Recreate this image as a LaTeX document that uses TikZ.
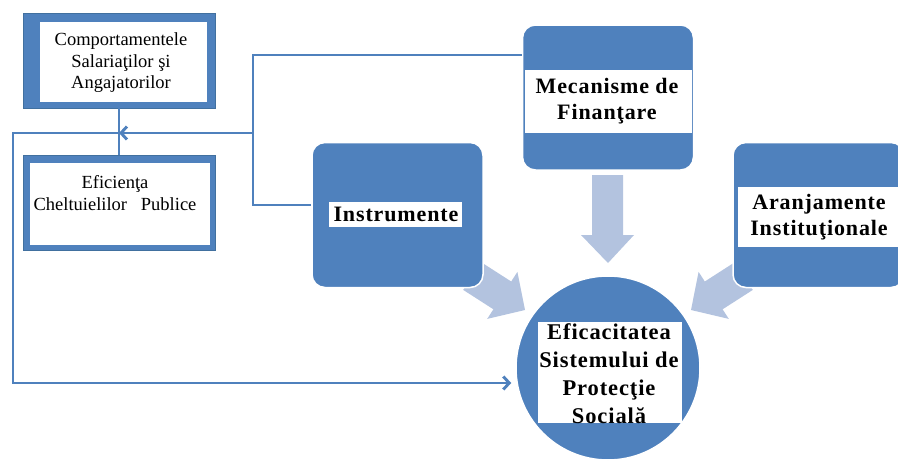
\documentclass[tikz,border=0pt]{standalone}
\usepackage{fontspec}
\setmainfont{Liberation Serif}
\newfontfamily\bwide[LetterSpace=4]{Liberation Serif}
\usetikzlibrary{arrows.meta}
\definecolor{blu}{HTML}{4F81BD}
\definecolor{lblu}{HTML}{B3C3DF}
\definecolor{dblu}{HTML}{41709F}
\begin{document}
\begin{tikzpicture}[x=1pt,y=-1pt,
  conn/.style={draw=blu,line width=2.9pt},
  thinconn/.style={draw=blu,line width=1.3pt},
  tipA/.style={-{Straight Barb[length=6pt,width=13pt]}},
  rbox/.style={rectangle,fill=blu,draw=white,line width=1.5pt,rounded corners=13pt,minimum width=171pt,minimum height=145pt},
  frame/.style={rectangle,fill=blu,draw=dblu,line width=0.8pt,minimum width=192pt,minimum height=95pt,inner sep=0pt},
  btxt/.style={font=\bwide\bfseries\fontsize{22}{26}\selectfont,align=center,inner sep=0pt},
  rtxt/.style={font=\fontsize{18.5}{21.5}\selectfont,align=center,inner sep=0pt},
  barrow/.style={fill=lblu}
]
\useasboundingbox (0,0) rectangle (898,463);

% light block arrows
\fill[barrow] (592,175) -- (623,175) -- (623,235) -- (634,235) -- (608,263) -- (581,235) -- (592,235) -- cycle;
\fill[barrow] (481,262.1) -- (511.2,281.5) -- (517.4,271.9) -- (525,310) -- (487.2,318.9) -- (493.4,309.3) -- (463.2,289.9) -- cycle;
\fill[barrow] (735,262.1) -- (704.8,281.5) -- (698.6,271.9) -- (691,310) -- (728.8,318.9) -- (722.6,309.3) -- (752.8,289.9) -- cycle;

% rounded boxes
\node[rbox] (ins) at (397.5,215) {};
\node[rbox] (mec) at (608,97.5) {};
\node[rbox] (ara) at (818.5,215) {};
\node[circle,fill=blu,draw=white,line width=1.5pt,minimum size=184pt] (eff) at (608,368) {};

% white bands
\fill[white] (329,202) rectangle (462,227);
\fill[white] (525,70) rectangle (692,133);
\fill[white] (738,187) rectangle (898,247);
\fill[white] (538,322) rectangle (682,423);

\node[btxt] (tins) at (396,214) {Instrumente};
\node[btxt] (tmec) at (607,101) {Mecanisme de\\Finanţare};
\node[btxt] (tara) at (819,217) {Aranjamente\\Instituţionale};
\node[btxt,font=\bwide\bfseries\fontsize{22.5}{28}\selectfont] (teff) at (609,374) {Eficacitatea\\Sistemului de\\Protecţie\\Socială};

% framed boxes
\node[frame] (comp) at (119,60.5) {};
\fill[white] (40,22) rectangle (207,102);
\node[rtxt] (tcomp) at (121,63) {Comportamentele\\Salariaţilor şi\\Angajatorilor};
\node[frame] (effp) at (119,202.5) {};
\fill[white] (30,163) rectangle (210,245);
\node[rtxt] (teffp) at (115,193) {Eficienţa\\Cheltuielilor\ \ \ Publice};

% connectors
\coordinate (jt) at (253,55);
\coordinate (jm) at (253,133);
\coordinate (jb) at (253,205);
\coordinate (lc) at (13,133);
\coordinate (ld) at (13,383);
\draw[thinconn] (comp.south) -- (effp.north);
\draw[conn,line join=miter] (jt -| mec.west) -- (jt) -- (jb) -- (jb -| ins.west);
\draw[conn,tipA] (jm) -- (comp.south |- jm);
\draw[conn,tipA,line join=miter,shorten >=4pt] (comp.south |- jm) -- (lc) -- (ld) -- (ld -| eff.west);
\end{tikzpicture}
\end{document}
